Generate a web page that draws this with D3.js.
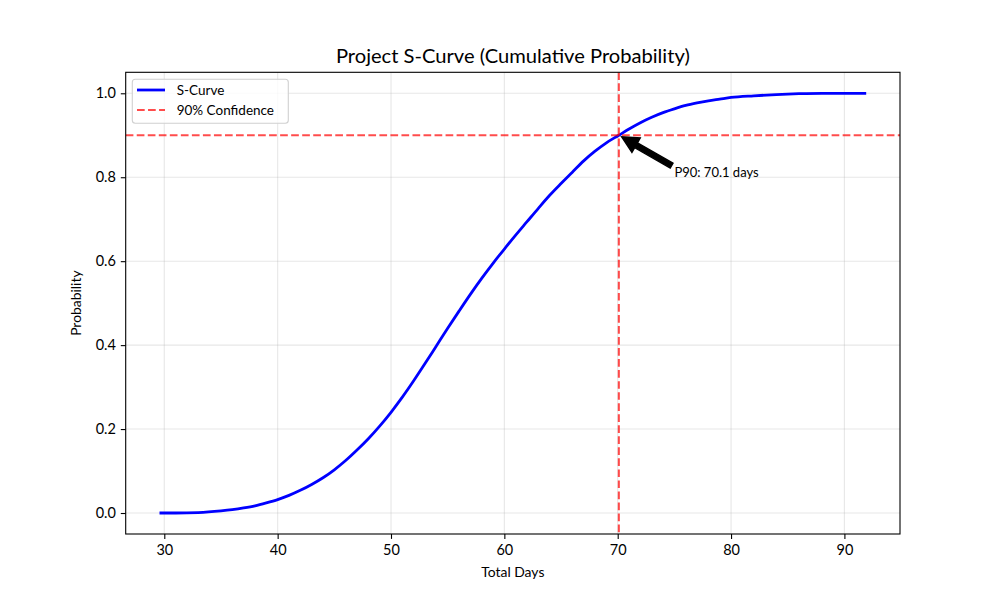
<!DOCTYPE html>
<html>
<head>
<meta charset="utf-8">
<script src="https://cdn.jsdelivr.net/npm/d3@7"></script>
<style>
  html, body { margin: 0; padding: 0; background: #fff; }
  svg { display: block; font-family: "Lato", "Noto Sans", sans-serif; }
</style>
</head>
<body>
<svg id="chart" width="1000" height="600"></svg>
<script>
// ---- data ----
const days = [29.7, 31, 33, 35, 36, 37, 38, 39, 40, 41, 42, 43, 44, 45, 46, 47, 48, 49, 50, 51, 52, 53, 54, 55, 56, 57, 58, 59, 60, 61, 62, 63, 64, 65, 66, 67, 68, 69, 70.1, 71, 72, 73, 74, 75, 76, 77, 78, 79, 80, 82, 84, 86, 88, 91.8];
const prob = [0.000, 0.000, 0.001, 0.005, 0.008, 0.012, 0.017, 0.024, 0.032, 0.042, 0.054, 0.068, 0.084, 0.103, 0.125, 0.150, 0.177, 0.207, 0.240, 0.276, 0.315, 0.356, 0.398, 0.440, 0.481, 0.521, 0.559, 0.595, 0.629, 0.662, 0.694, 0.726, 0.757, 0.785, 0.812, 0.839, 0.862, 0.882, 0.900, 0.915, 0.930, 0.943, 0.954, 0.963, 0.971, 0.977, 0.982, 0.986, 0.990, 0.994, 0.997, 0.999, 1.000, 1.000];
const xTicks = [30, 40, 50, 60, 70, 80, 90];
const yTicks = [0.0, 0.2, 0.4, 0.6, 0.8, 1.0];
const p90Day = 70.1;
const p90Prob = 0.9;
const labels = { title: "Project S-Curve (Cumulative Probability)", x: "Total Days", y: "Probability",
  series: "S-Curve", conf: "90% Confidence", note: "P90: 70.1 days" };
const noteAt = [75, 0.8];

// ---- layout ----
const svg = d3.select("#chart");
const L = 125.7, R = 900, T = 72.3, B = 534;
const xMin = d3.min(days), xMax = d3.max(days), xPad = (xMax - xMin) * 0.05;
const x = d3.scaleLinear().domain([xMin - xPad, xMax + xPad]).range([L, R]);
const y = d3.scaleLinear().domain([-0.05, 1.05]).range([B, T]);

const clipId = "plotclip";
svg.append("defs").append("clipPath").attr("id", clipId)
  .append("rect").attr("x", L).attr("y", T).attr("width", R - L).attr("height", B - T);

// grid
const grid = svg.append("g").attr("stroke", "#b0b0b0").attr("stroke-opacity", 0.3).attr("stroke-width", 1.1);
grid.selectAll("line.gx").data(xTicks).join("line")
  .attr("x1", d => x(d)).attr("x2", d => x(d)).attr("y1", T).attr("y2", B);
grid.selectAll("line.gy").data(yTicks).join("line")
  .attr("y1", d => y(d)).attr("y2", d => y(d)).attr("x1", L).attr("x2", R);

// axes
const xAxis = svg.append("g").attr("transform", `translate(0,${B})`)
  .call(d3.axisBottom(x).tickValues(xTicks).tickFormat(d3.format("d")).tickSize(4.9).tickPadding(4.9));
const yAxis = svg.append("g").attr("transform", `translate(${L},0)`)
  .call(d3.axisLeft(y).tickValues(yTicks).tickFormat(d3.format(".1f")).tickSize(4.9).tickPadding(4.9));
[xAxis, yAxis].forEach(g => {
  g.select(".domain").remove();
  g.selectAll(".tick line").attr("stroke", "#000").attr("stroke-width", 1.1);
  g.selectAll(".tick text").attr("fill", "#000").attr("font-size", 14.5).attr("font-family", "Lato, sans-serif");
});
xAxis.selectAll(".tick text").attr("dy", "0.75em");

// curve
const plot = svg.append("g").attr("clip-path", `url(#${clipId})`);
const line = d3.line().x((d, i) => x(days[i])).y((d, i) => y(prob[i])).curve(d3.curveMonotoneX);
plot.append("path").datum(prob).attr("d", line)
  .attr("fill", "none").attr("stroke", "#0000ff").attr("stroke-width", 2.78)
  .attr("stroke-linejoin", "round").attr("stroke-linecap", "square");

// confidence lines
const red = "rgba(255,0,0,0.7)";
plot.append("line").attr("x1", L).attr("x2", R).attr("y1", y(p90Prob)).attr("y2", y(p90Prob))
  .attr("stroke", red).attr("stroke-width", 2.08).attr("stroke-dasharray", "7.7,3.33");
plot.append("line").attr("x1", x(p90Day)).attr("x2", x(p90Day)).attr("y1", T).attr("y2", B)
  .attr("stroke", red).attr("stroke-width", 2.08).attr("stroke-dasharray", "7.7,3.33");

// frame
svg.append("rect").attr("x", L).attr("y", T).attr("width", R - L).attr("height", B - T)
  .attr("fill", "none").attr("stroke", "#000").attr("stroke-width", 1.1);

// annotation text
const note = svg.append("text").attr("x", x(noteAt[0])).attr("y", y(noteAt[1]))
  .attr("font-size", 13).attr("fill", "#000").text(labels.note);
const bb = note.node().getBBox();
// arrow from top-left corner of text bbox to point, shrink 5% each end
const x0 = bb.x, y0 = bb.y + 3;
const x1 = x(p90Day), y1 = y(p90Prob);
const dx = x1 - x0, dy = y1 - y0, len = Math.hypot(dx, dy);
const ux = dx / len, uy = dy / len;
const sx = x0 + ux * len * 0.05, sy = y0 + uy * len * 0.05;
const ex = x1 - ux * len * 0.05, ey = y1 - uy * len * 0.05;
const hw = 16.7 / 2, hl = 16.7, sw = 5.56 / 2;
const px = -uy, py = ux;
const bx = ex - ux * hl, by = ey - uy * hl;
const pts = [
  [sx + px * sw, sy + py * sw],
  [bx + px * sw, by + py * sw],
  [bx + px * hw, by + py * hw],
  [ex, ey],
  [bx - px * hw, by - py * hw],
  [bx - px * sw, by - py * sw],
  [sx - px * sw, sy - py * sw]
];
svg.append("polygon").attr("points", pts.map(p => p.join(",")).join(" "))
  .attr("fill", "#000").attr("stroke", "#000").attr("stroke-width", 1.39).attr("stroke-linejoin", "miter");

// legend
const lg = svg.append("g");
lg.append("rect").attr("x", 132.3).attr("y", 79.3).attr("width", 156).attr("height", 44).attr("rx", 3)
  .attr("fill", "rgba(255,255,255,0.8)").attr("stroke", "#d0d0d0").attr("stroke-width", 1.1);
lg.append("line").attr("x1", 137).attr("x2", 165).attr("y1", 90).attr("y2", 90)
  .attr("stroke", "#0000ff").attr("stroke-width", 2.78);
lg.append("line").attr("x1", 137).attr("x2", 165).attr("y1", 110).attr("y2", 110)
  .attr("stroke", red).attr("stroke-width", 2.08).attr("stroke-dasharray", "7.7,3.33");
lg.append("text").attr("x", 176.7).attr("y", 90).attr("dy", "0.35em").attr("font-size", 13.5).text(labels.series);
lg.append("text").attr("x", 176.7).attr("y", 110).attr("dy", "0.35em").attr("font-size", 13.5).text(labels.conf);

// title & axis labels
const title = svg.append("text").attr("x", (L + R) / 2).attr("y", 63.3).attr("text-anchor", "middle")
  .attr("font-size", 19.4).attr("fill", "#000").text(labels.title);
const tw = title.node().getComputedTextLength();
title.attr("font-size", 19.4 * 354 / tw);

svg.append("text").attr("x", (L + R) / 2).attr("y", 576.5).attr("text-anchor", "middle")
  .attr("font-size", 13.9).attr("fill", "#000").text(labels.x);
svg.append("text").attr("transform", `translate(81,${(T + B) / 2}) rotate(-90)`).attr("text-anchor", "middle")
  .attr("font-size", 13.9).attr("fill", "#000").text(labels.y);
</script>
</body>
</html>
